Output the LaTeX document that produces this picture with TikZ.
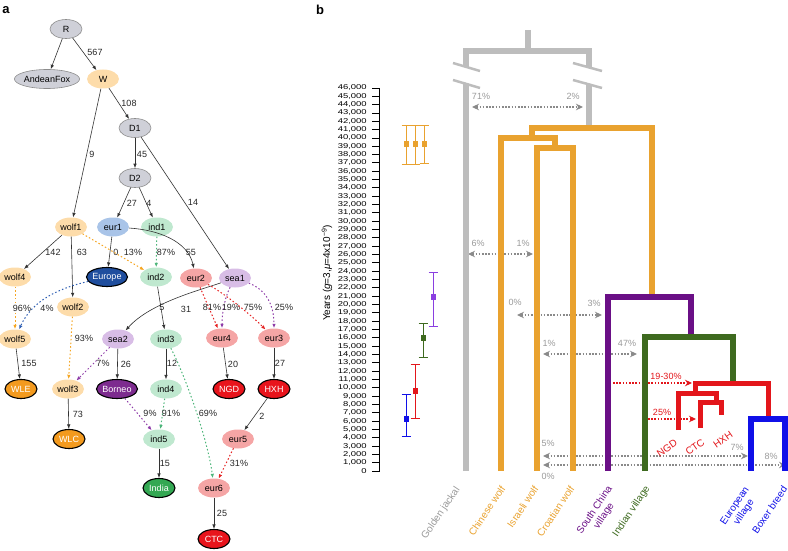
\documentclass[tikz,border=0pt]{standalone}
\usepackage{fontspec}
\setmainfont{Liberation Sans}
\usetikzlibrary{shapes.geometric,arrows.meta,positioning}

\definecolor{ancgray}{HTML}{CFD0D8}
\definecolor{wolflt}{HTML}{FDDCAA}
\definecolor{eurlt}{HTML}{A9C4E8}
\definecolor{indlt}{HTML}{BFE8CF}
\definecolor{redlt}{HTML}{F5A5A5}
\definecolor{sealt}{HTML}{D8BDE6}
\definecolor{europec}{HTML}{1F4E9E}
\definecolor{wlec}{HTML}{F39A1E}
\definecolor{borneoc}{HTML}{7D2B8F}
\definecolor{ngdc}{HTML}{E8141C}
\definecolor{indiac}{HTML}{34A853}
\definecolor{mixor}{HTML}{F5A623}
\definecolor{mixbl}{HTML}{2F5FB3}
\definecolor{mixgr}{HTML}{4DB57A}
\definecolor{mixrd}{HTML}{E52424}
\definecolor{mixpu}{HTML}{8E3CA8}
\definecolor{jackal}{HTML}{BDBDBD}
\definecolor{wolfor}{HTML}{E9A22F}
\definecolor{chinapu}{HTML}{6A0F86}
\definecolor{indgr}{HTML}{3E6A1F}
\definecolor{dogred}{HTML}{E3161B}
\definecolor{dogbl}{HTML}{1010E8}
\definecolor{flowgray}{HTML}{8A8A8A}
\definecolor{labgray}{HTML}{9A9A9A}
\definecolor{barpu}{HTML}{8A3FE0}

\tikzset{
  pop/.style={ellipse, inner sep=0pt, minimum height=19pt, minimum width=32pt, font=\fontsize{9}{10}\selectfont},
  ancn/.style={pop, fill=ancgray, draw=black!45, line width=0.6pt},
  wolfn/.style={pop, fill=wolflt},
  eurn/.style={pop, fill=eurlt},
  indn/.style={pop, fill=indlt},
  redn/.style={pop, fill=redlt},
  sean/.style={pop, fill=sealt},
  tipn/.style={pop, draw=black, line width=1.1pt, text=white},
  edge/.style={-{Latex[length=4.5pt,width=3.5pt]}, draw=black!80, line width=0.6pt},
  mix/.style={-{Latex[length=4.5pt,width=3.5pt]}, line width=1pt, dash pattern=on 1.5pt off 2.2pt},
  elab/.style={font=\fontsize{9}{10}\selectfont, inner sep=0.5pt, text=black!85},
  branch/.style={line width=5.5pt, line join=miter},
  flow/.style={draw=flowgray, line width=1.1pt, dash pattern=on 1.6pt off 1.6pt},
  flowtip/.tip={Stealth[length=7pt,width=6.5pt]},
  flowlab/.style={font=\fontsize{9}{10}\selectfont, text=labgray, inner sep=0pt},
  leaflab/.style={font=\fontsize{10}{11}\selectfont, anchor=east, rotate=56, inner sep=0pt, align=center},
  ticklab/.style={font=\fontsize{7}{7}\selectfont, anchor=east, inner sep=0pt, xscale=1.35},
  errbar/.style={line width=1pt},
}

\begin{document}
\begin{tikzpicture}[x=1pt,y=-1pt]
\useasboundingbox (0,0) rectangle (788,551);

% ---- panel a: admixture graph
\node[font=\bfseries\fontsize{13}{13}\selectfont] (pa) at (6,10) {a};

\node[ancn] (R) at (66,29) {R};
\node[ancn] (fox) at (47,79) {AndeanFox};
\node[wolfn] (W) at (103,79) {W};
\node[ancn] (D1) at (135,128) {D1};
\node[ancn] (D2) at (135,178) {D2};
\node[wolfn] (wolf1) at (71,227) {wolf1};
\node[eurn] (eur1) at (113,227) {eur1};
\node[indn] (ind1) at (157,227) {ind1};
\node[tipn, fill=europec] (Europe) at (107,277) {Europe};
\node[indn] (ind2) at (156,277) {ind2};
\node[redn] (eur2) at (196,278) {eur2};
\node[sean] (sea1) at (235,278) {sea1};
\node[wolfn] (wolf4) at (15,277) {wolf4};
\node[wolfn] (wolf2) at (73,307) {wolf2};
\node[wolfn] (wolf5) at (15,339) {wolf5};
\node[sean] (sea2) at (118,339) {sea2};
\node[indn] (ind3) at (166,339) {ind3};
\node[redn] (eur4) at (222,338) {eur4};
\node[redn] (eur3) at (274,338) {eur3};
\node[tipn, fill=wlec] (WLE) at (21,389) {WLE};
\node[wolfn] (wolf3) at (68,389) {wolf3};
\node[tipn, fill=borneoc] (Borneo) at (117,389) {Borneo};
\node[indn] (ind4) at (166,389) {ind4};
\node[tipn, fill=ngdc] (NGD) at (229,389) {NGD};
\node[tipn, fill=ngdc] (HXH) at (274,389) {HXH};
\node[tipn, fill=wlec] (WLC) at (69,439) {WLC};
\node[indn] (ind5) at (159,439) {ind5};
\node[redn] (eur5) at (238,439) {eur5};
\node[tipn, fill=indiac] (India) at (159,488) {India};
\node[redn] (eur6) at (214,488) {eur6};
\node[tipn, fill=ngdc] (CTC) at (214,539) {CTC};

% drift edges
\draw[edge] (R) -- (fox);
\draw[edge] (R) -- (W) node[elab] (l1) at (95,52) {567};
\draw[edge] (W) -- (D1) node[elab] (l2) at (129,103) {108};
\draw[edge] (W) -- (wolf1) node[elab] (l3) at (92,154) {9};
\draw[edge] (D1) -- (D2) node[elab] (l4) at (142,154) {45};
\draw[edge] (D1) -- (sea1) node[elab] (l5) at (193,202) {14};
\draw[edge] (D2) -- (eur1) node[elab] (l6) at (132,203) {27};
\draw[edge] (D2) -- (ind1) node[elab] (l7) at (149,203) {4};
\draw[edge] (wolf1) -- (wolf4) node[elab] (l8) at (53,252) {142};
\draw[edge] (wolf1) -- (wolf2) node[elab] (l9) at (82,252) {63};
\draw[edge] (eur1) -- (Europe) node[elab] (l10) at (116,252) {0};
\draw[edge] (eur1) .. controls (160,230) and (188,242) .. (eur2) node[elab] (l11) at (191,252) {55};
\draw[edge] (ind2) -- (ind3) node[elab] (l12) at (162,307) {5};
\draw[edge] (sea1) .. controls (200,290) and (150,303) .. (sea2) node[elab] (l13) at (186,309) {31};
\draw[edge] (wolf5) -- (WLE) node[elab] (l14) at (29,363) {155};
\draw[edge] (sea2) -- (Borneo) node[elab] (l15) at (126,364) {26};
\draw[edge] (ind3) -- (ind4) node[elab] (l16) at (172,363) {12};
\draw[edge] (eur4) -- (NGD) node[elab] (l17) at (233,364) {20};
\draw[edge] (eur3) -- (HXH) node[elab] (l18) at (280,363) {27};
\draw[edge] (wolf3) -- (WLC) node[elab] (l19) at (78,414) {73};
\draw[edge] (ind5) -- (India) node[elab] (l20) at (165,463) {15};
\draw[edge] (HXH) -- (eur5) node[elab] (l21) at (262,416) {2};
\draw[edge] (eur6) -- (CTC) node[elab] (l22) at (222,513) {25};

% admixture edges
\draw[mix, mixor] (wolf4) -- (wolf5) node[elab, fill=white] (m1) at (22,308) {96\%};
\draw[mix, mixbl] (Europe) .. controls (60,288) and (32,300) .. (wolf5) node[elab] (m2) at (47,308) {4\%};
\draw[mix, mixor] (wolf1) -- (ind2) node[elab] (m3) at (133,252) {13\%};
\draw[mix, mixgr] (ind1) -- (ind2) node[elab] (m4) at (166,252) {87\%};
\draw[mix, mixor] (wolf2) -- (wolf3) node[elab] (m5) at (84,338) {93\%};
\draw[mix, mixpu] (sea2) -- (wolf3) node[elab] (m6) at (103,363) {7\%};
\draw[mix, mixrd] (eur2) -- (eur4) node[elab] (m7) at (212,307) {81\%};
\draw[mix, mixpu] (sea1) .. controls (226,295) and (222,310) .. (eur4) node[elab] (m8) at (231,307) {19\%};
\draw[mix, mixrd] (eur2) .. controls (222,292) and (248,312) .. (eur3) node[elab] (m9) at (253,307) {75\%};
\draw[mix, mixpu] (sea1) .. controls (262,288) and (274,300) .. (eur3) node[elab] (m10) at (284,307) {25\%};
\draw[mix, mixpu] (Borneo) -- (ind5) node[elab] (m11) at (150,413) {9\%};
\draw[mix, mixgr] (ind4) -- (ind5) node[elab] (m12) at (171,413) {91\%};
\draw[mix, mixgr] (ind3) .. controls (185,375) and (208,440) .. (eur6) node[elab] (m13) at (208,413) {69\%};
\draw[mix, mixrd] (eur5) -- (eur6) node[elab] (m14) at (239,463) {31\%};

% ---- panel b: dated tree
\node[font=\bfseries\fontsize{13}{13}\selectfont] (pb) at (320,10) {b};

% time axis
\draw[line width=1pt] (379,88) -- (379,472);
\foreach \k in {0,...,46}{
  \draw[line width=0.9pt] (372,{471-8.326*\k}) -- (379,{471-8.326*\k});
  \node[ticklab] (tk\k) at (367,{471-8.326*\k}) {\ifnum\k=0 0\else\k,000\fi};
}
\node[font=\fontsize{10}{11}\selectfont, rotate=90] (ylab) at (327,273) {Years (\textit{g}=3,\textit{μ}=4x10\textsuperscript{−9})};

% divergence time error bars
\foreach \x/\t/\b/\m/\c in {406/126/164/144/wolfor, 415/126/164/144/wolfor, 424/126/163/144/wolfor,
    433/272/326/297/barpu, 423/323/357/338/indgr, 415/364/418/391/dogred, 406/394/436/419/dogbl}{
  \draw[errbar, \c] (\x,\t) -- (\x,\b) (\x-4.5,\t) -- (\x+4.5,\t) (\x-4.5,\b) -- (\x+4.5,\b);
  \fill[\c] (\x-2.5,\m-3) rectangle (\x+2.5,\m+3);
}

% gene flow
\draw[flow, flowtip-flowtip] (472,107) -- (583,107);
\draw[flow, flowtip-flowtip] (468,254) -- (533,254);
\draw[flow, flowtip-flowtip] (517,315) -- (602,315);
\draw[flow, flowtip-flowtip] (543,354) -- (637,354);
\draw[flow, flowtip-flowtip] (543,456) -- (748,456);
\draw[flow, flowtip-flowtip] (543,465) -- (786,465);
\draw[flow, draw=dogred, -flowtip] (613,383) -- (692,383);
\draw[flow, draw=dogred, -flowtip] (648,419) -- (696,419);
\node[flowlab] (f1) at (481,96) {71\%};
\node[flowlab] (f2) at (573,96) {2\%};
\node[flowlab] (f3) at (478,243) {6\%};
\node[flowlab] (f4) at (523,243) {1\%};
\node[flowlab] (f5) at (515,302) {0\%};
\node[flowlab] (f6) at (594,303) {3\%};
\node[flowlab] (f7) at (549,343) {1\%};
\node[flowlab] (f8) at (627,343) {47\%};
\node[flowlab] (f9) at (548,443) {5\%};
\node[flowlab] (f10) at (737,447) {7\%};
\node[flowlab] (f11) at (548,476) {0\%};
\node[flowlab] (f12) at (771,456) {8\%};
\node[flowlab, text=dogred] (f13) at (666,376) {19-30\%};
\node[flowlab, text=dogred] (f14) at (662,412) {25\%};

% tree branches
\draw[branch, jackal] (528,30) -- (528,51);
\draw[branch, jackal] (466,471) -- (466,51) -- (589,51) -- (589,128);
\fill[white] (450,63) -- (484,73) -- (484,88) -- (450,78) -- cycle;
\fill[white] (570,63) -- (606,73) -- (606,88) -- (570,78) -- cycle;
\draw[jackal, line width=2.5pt] (453,63) -- (480,71) (453,80) -- (480,88);
\draw[jackal, line width=2.5pt] (573,63) -- (602,71) (573,80) -- (602,88);
\draw[branch, wolfor] (501,471) -- (501,138) -- (555,138) -- (555,148);
\draw[branch, wolfor] (537,471) -- (537,148) -- (573,148) -- (573,471);
\draw[branch, wolfor] (532,138) -- (532,128) -- (652,128) -- (652,297);
\draw[branch, chinapu] (608,471) -- (608,297) -- (691,297) -- (691,337);
\draw[branch, indgr] (645,471) -- (645,337) -- (733,337) -- (733,383);
\draw[branch, dogred, line width=5pt] (695,393) -- (695,383) -- (768,383) -- (768,419);
\draw[branch, dogred, line width=5pt] (678,430) -- (678,393) -- (716,393) -- (716,402);
\draw[branch, dogred, line width=5pt] (700,428) -- (700,402) -- (721,402) -- (721,415);
\draw[branch, dogbl] (751,471) -- (751,419) -- (785,419) -- (785,471);

% leaf names
\node[leaflab, text=labgray] (gj) at (458,488) {Golden jackal};
\node[leaflab, text=wolfor] (cw) at (503,487) {Chinese wolf};
\node[leaflab, text=wolfor] (iw) at (536,487) {Israeli wolf};
\node[leaflab, text=wolfor] (crw) at (572,487) {Croatian wolf};
\node[leaflab, text=chinapu] (scv) at (615,490) {South China\\village};
\node[leaflab, text=indgr] (iv) at (648,487) {Indian village};
\node[leaflab, text=dogbl] (ev) at (752,491) {European\\village};
\node[leaflab, text=dogbl] (bx) at (785,487) {Boxer breed};
\node[flowlab, text=dogred, font=\fontsize{10}{11}\selectfont, rotate=35] (ngd) at (667,448) {NGD};
\node[flowlab, text=dogred, font=\fontsize{10}{11}\selectfont, rotate=35] (ctc) at (695,447) {CTC};
\node[flowlab, text=dogred, font=\fontsize{10}{11}\selectfont, rotate=35] (hxh) at (723,440) {HXH};
\end{tikzpicture}
\end{document}
